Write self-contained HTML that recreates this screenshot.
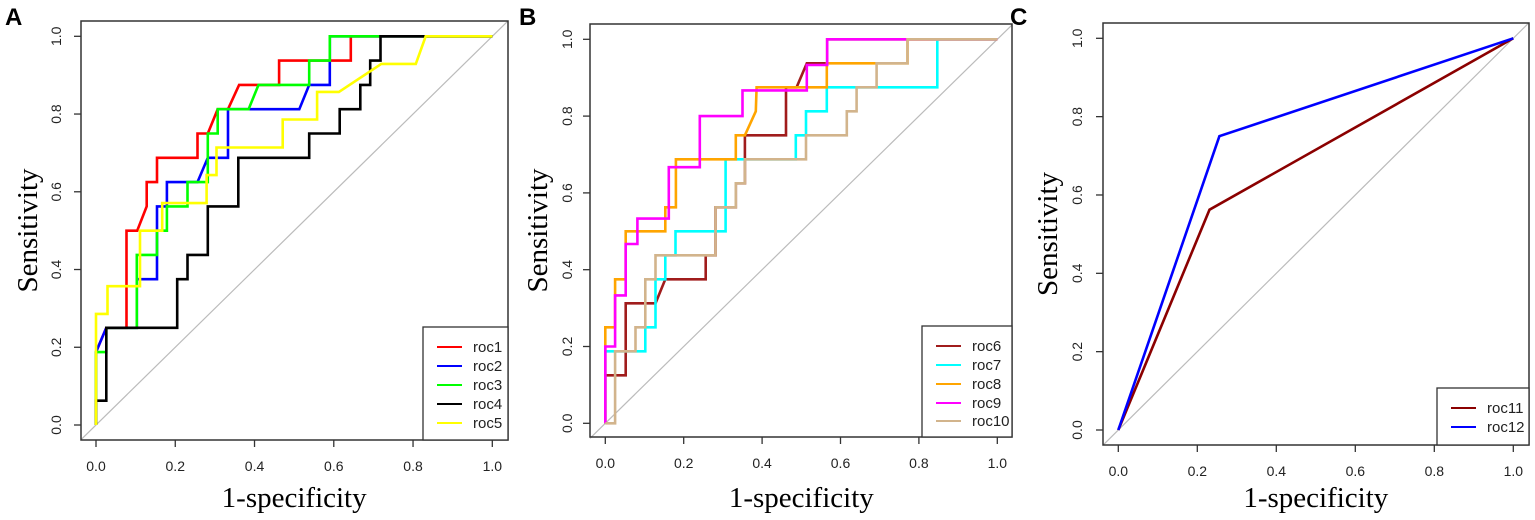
<!DOCTYPE html>
<html><head><meta charset="utf-8"><style>
html,body{margin:0;padding:0;background:#fff;}
svg{display:block;}
.tick{font-family:"Liberation Sans",sans-serif;font-size:14px;fill:#222;}
.lab{font-family:"Liberation Serif",serif;font-size:29px;fill:#000;}
.pl{font-family:"Liberation Sans",sans-serif;font-size:24px;font-weight:bold;fill:#000;}
.leg{font-family:"Liberation Sans",sans-serif;font-size:15px;fill:#222;}
</style></head><body>
<svg id="chart" width="1535" height="520" viewBox="0 0 1535 520" xmlns="http://www.w3.org/2000/svg"></svg>
<script>
const xTicks = [0, 0.2, 0.4, 0.6, 0.8, 1.0];
const yTicks = [0, 0.2, 0.4, 0.6, 0.8, 1.0];
const tickLabels = ["0.0","0.2","0.4","0.6","0.8","1.0"];
const namesA = ["roc1","roc2","roc3","roc4","roc5"];
const namesB = ["roc6","roc7","roc8","roc9","roc10"];
const namesC = ["roc11","roc12"];
const roc1 = [[0,0],[0,0.1875],[0.026,0.25],[0.077,0.25],[0.077,0.5],[0.104,0.5],[0.128,0.5625],[0.128,0.625],[0.154,0.625],[0.154,0.6875],[0.256,0.6875],[0.256,0.75],[0.282,0.75],[0.307,0.8125],[0.333,0.8125],[0.361,0.875],[0.462,0.875],[0.462,0.9375],[0.643,0.9375],[0.643,1],[1,1]];
const roc2 = [[0,0],[0,0.1875],[0.026,0.25],[0.103,0.25],[0.103,0.375],[0.154,0.375],[0.154,0.5625],[0.179,0.5625],[0.179,0.625],[0.256,0.625],[0.282,0.6875],[0.333,0.6875],[0.333,0.8125],[0.513,0.8125],[0.538,0.875],[0.59,0.875],[0.59,1],[1,1]];
const roc3 = [[0,0],[0,0.1875],[0.026,0.1875],[0.026,0.25],[0.103,0.25],[0.103,0.4375],[0.154,0.4375],[0.154,0.5],[0.179,0.5],[0.179,0.5625],[0.231,0.5625],[0.231,0.625],[0.282,0.625],[0.282,0.75],[0.307,0.75],[0.307,0.8125],[0.385,0.8125],[0.41,0.875],[0.538,0.875],[0.538,0.9375],[0.59,0.9375],[0.59,1],[1,1]];
const roc4 = [[0,0],[0,0.0625],[0.026,0.0625],[0.026,0.25],[0.205,0.25],[0.205,0.375],[0.231,0.375],[0.231,0.4375],[0.282,0.4375],[0.282,0.5625],[0.359,0.5625],[0.359,0.6875],[0.538,0.6875],[0.538,0.75],[0.615,0.75],[0.615,0.8125],[0.667,0.8125],[0.667,0.875],[0.692,0.875],[0.692,0.9375],[0.718,0.9375],[0.718,1],[1,1]];
const roc5 = [[0,0],[0,0.2857],[0.029,0.2857],[0.029,0.357],[0.111,0.357],[0.111,0.5],[0.167,0.5],[0.167,0.571],[0.279,0.571],[0.279,0.643],[0.304,0.643],[0.304,0.714],[0.471,0.714],[0.471,0.786],[0.558,0.786],[0.558,0.857],[0.613,0.857],[0.72,0.929],[0.807,0.929],[0.832,1],[1,1]];
const roc6 = [[0,0],[0,0.125],[0.052,0.125],[0.052,0.3125],[0.128,0.3125],[0.153,0.375],[0.256,0.375],[0.256,0.4375],[0.281,0.4375],[0.281,0.5625],[0.333,0.5625],[0.333,0.625],[0.356,0.625],[0.356,0.75],[0.461,0.75],[0.461,0.875],[0.488,0.875],[0.514,0.9375],[0.566,0.9375],[0.566,1],[1,1]];
const roc7 = [[0,0],[0,0.1875],[0.102,0.1875],[0.102,0.25],[0.128,0.25],[0.128,0.375],[0.153,0.375],[0.153,0.4375],[0.179,0.4375],[0.179,0.5],[0.281,0.5],[0.307,0.5],[0.307,0.6875],[0.486,0.6875],[0.486,0.75],[0.512,0.75],[0.512,0.8125],[0.565,0.8125],[0.565,0.875],[0.847,0.875],[0.847,1],[1,1]];
const roc8 = [[0,0],[0,0.25],[0.025,0.25],[0.025,0.375],[0.052,0.375],[0.052,0.5],[0.153,0.5],[0.153,0.5625],[0.18,0.5625],[0.18,0.6875],[0.333,0.6875],[0.333,0.75],[0.356,0.75],[0.384,0.8125],[0.386,0.875],[0.565,0.875],[0.565,0.9375],[0.692,0.9375],[0.771,0.9375],[0.771,1],[1,1]];
const roc9 = [[0,0],[0,0.2],[0.025,0.2],[0.025,0.333],[0.052,0.333],[0.052,0.467],[0.082,0.467],[0.082,0.533],[0.162,0.533],[0.162,0.667],[0.241,0.667],[0.241,0.8],[0.35,0.8],[0.35,0.867],[0.514,0.867],[0.514,0.933],[0.566,0.933],[0.566,1],[1,1]];
const roc10 = [[0,0],[0.025,0],[0.025,0.1875],[0.077,0.1875],[0.077,0.25],[0.102,0.25],[0.102,0.375],[0.128,0.375],[0.128,0.4375],[0.281,0.4375],[0.281,0.5625],[0.333,0.5625],[0.333,0.625],[0.356,0.625],[0.356,0.6875],[0.512,0.6875],[0.512,0.75],[0.616,0.75],[0.616,0.8125],[0.641,0.8125],[0.641,0.875],[0.692,0.875],[0.692,0.9375],[0.771,0.9375],[0.771,1],[1,1]];
const roc11 = [[0,0],[0.231,0.5625],[1,1]];
const roc12 = [[0,0],[0.256,0.75],[1,1]];

const NS = "http://www.w3.org/2000/svg";
const svg = document.getElementById("chart");
function mk(tag, attrs, parent){const e=document.createElementNS(NS,tag);for(const k in attrs)e.setAttribute(k,attrs[k]);(parent||svg).appendChild(e);return e;}

const panels = [
 {id:"a", letter:"A", lx:5, box:[81,21,508,440], x0:96, x1:492.3, y0:425, y1:36.3, ytl:56, ylab:27,
  series:[roc1,roc2,roc3,roc4,roc5], names:namesA, colors:["#ff0000","#0000ff","#00ff00","#000000","#ffff00"],
  leg:[423,327], legy:[347,366,385,404,423]},
 {id:"b", letter:"B", lx:519, box:[590,24,1012,437], x0:605.3, x1:997.3, y0:423.3, y1:39.3, ytl:567, ylab:537,
  series:[roc6,roc7,roc8,roc9,roc10], names:namesB, colors:["#a01c1c","#00ffff","#ffa500","#ff00ff","#d2b48c"],
  leg:[922,326], legy:[346,365,384,403,421]},
 {id:"c", letter:"C", lx:1010, box:[1103,23,1529,445], x0:1118.3, x1:1513.3, y0:430, y1:38.3, ytl:1077, ylab:1047,
  series:[roc11,roc12], names:namesC, colors:["#8b0000","#0000ff"],
  leg:[1437,388], legy:[408,427]}
];

panels.forEach(p=>{
  const g = mk("g",{});
  
  
  const X = v => p.x0 + v*(p.x1-p.x0);
  const Y = v => p.y0 + v*(p.y1-p.y0);
  const [bl,bt,br,bb] = p.box;
  const L = mk("text",{x:p.lx,y:25,class:"pl"},g); L.textContent=p.letter;
  
  
  const d = mk("line",{x1:bl,y1:p.y0+(p.y0-p.y1)*((p.x0-bl)/(p.x1-p.x0)),x2:br,y2:p.y1-(p.y0-p.y1)*((br-p.x1)/(p.x1-p.x0)),stroke:"#bbb","stroke-width":1.2},g);
  
  
  p.series.forEach((s,i)=>{
    const pts = s.map(q=>X(q[0]).toFixed(1)+","+Y(q[1]).toFixed(1)).join(" ");
    const pl = mk("polyline",{points:pts,fill:"none",stroke:p.colors[i],"stroke-width":2.6,"stroke-linejoin":"miter"},g);
    
    
  });
  const bx = mk("rect",{x:bl,y:bt,width:br-bl,height:bb-bt,fill:"none",stroke:"#333","stroke-width":1.5},g);
  
  
  xTicks.forEach((t,i)=>{
    mk("line",{x1:X(t),y1:bb,x2:X(t),y2:bb+7,stroke:"#333","stroke-width":1.3},g);
    const tx = mk("text",{x:X(t),y:bb+31,"text-anchor":"middle",class:"tick"},g); tx.textContent=tickLabels[i];
    
    
  });
  yTicks.forEach((t,i)=>{
    mk("line",{x1:bl-7,y1:Y(t),x2:bl,y2:Y(t),stroke:"#333","stroke-width":1.3},g);
    const ty = mk("text",{x:0,y:0,"text-anchor":"middle",class:"tick",transform:`translate(${p.ytl+5},${Y(t)}) rotate(-90)`},g); ty.textContent=tickLabels[i];
    
    
  });
  const xl = mk("text",{x:(p.x0+p.x1)/2,y:507,"text-anchor":"middle",class:"lab"},g); xl.textContent="1-specificity";
  
  
  const yl = mk("text",{x:0,y:0,"text-anchor":"middle",class:"lab",transform:`translate(${p.ylab+10},${(bt+bb)/2}) rotate(-90)`},g); yl.textContent="Sensitivity";
  
  
  const lg = mk("g",{},g);
  
  
  mk("rect",{x:p.leg[0],y:p.leg[1],width:br-p.leg[0],height:bb-p.leg[1],fill:"#fff",stroke:"#333","stroke-width":1.3},lg);
  p.names.forEach((n,i)=>{
    const e = mk("g",{},lg);
    
    
    mk("line",{x1:p.leg[0]+14,y1:p.legy[i],x2:p.leg[0]+39,y2:p.legy[i],stroke:p.colors[i],"stroke-width":2},e);
    const t = mk("text",{x:p.leg[0]+50,y:p.legy[i]+5,class:"leg"},e); t.textContent=n;
  });
});
</script>
</body></html>
